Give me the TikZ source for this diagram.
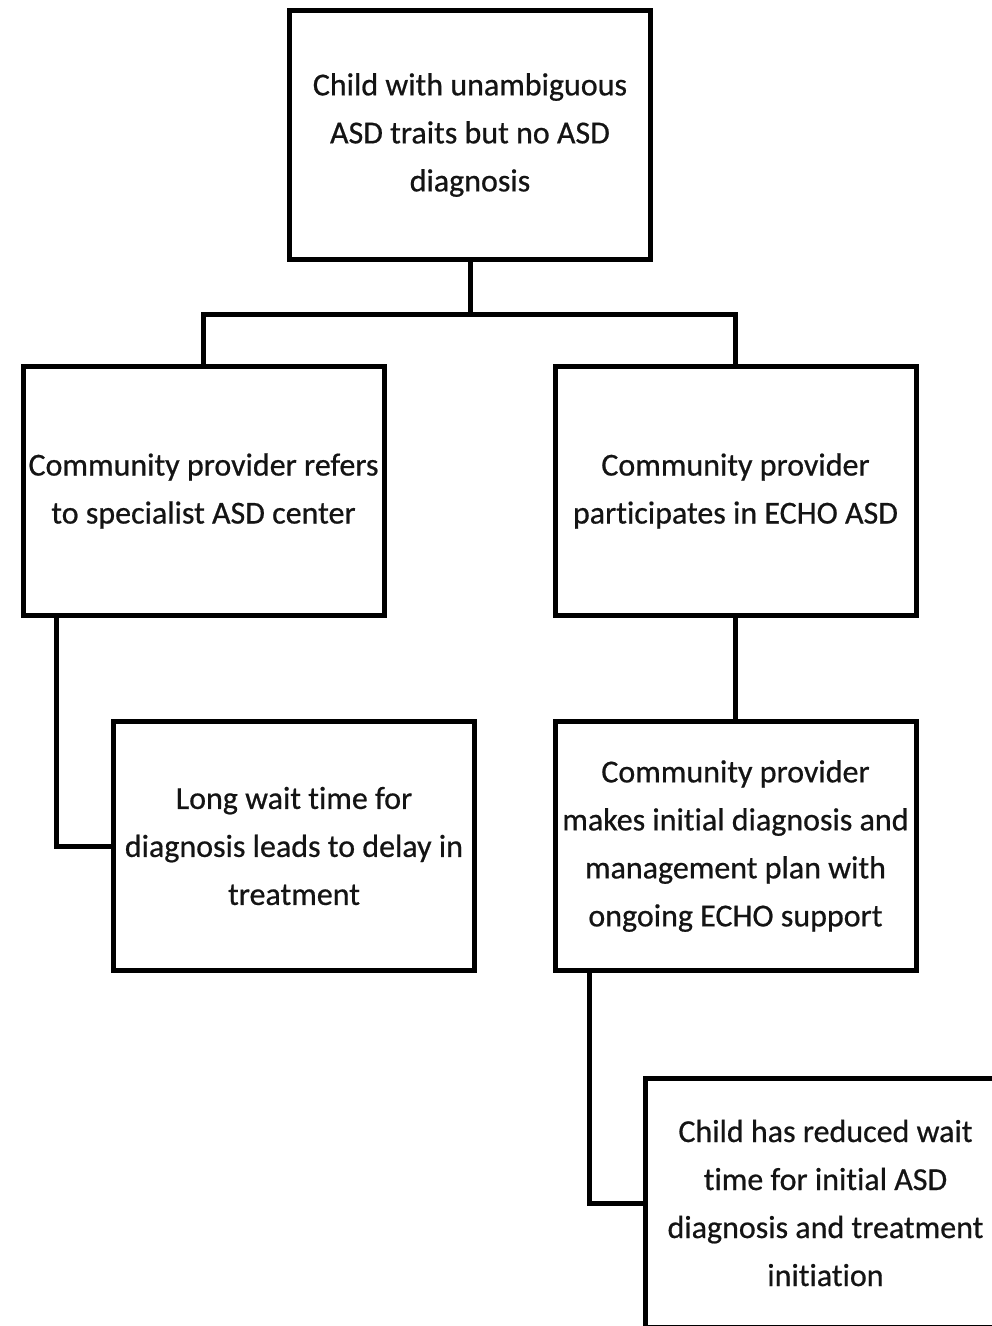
\documentclass[tikz,border=0pt]{standalone}
\usepackage{fontspec}
\setmainfont{Carlito}[Ligatures={NoCommon}, FakeBold=0.6]
\usetikzlibrary{calc}
\begin{document}
\begin{tikzpicture}[x=1pt,y=-1pt,
  box/.style={draw=black, line width=5pt, minimum width=361pt, minimum height=249pt,
    inner sep=0pt, align=center, font=\fontsize{32}{48}\selectfont, text=black!92},
  conn/.style={draw=black, line width=5pt}]
\useasboundingbox (0,0) rectangle (992,1326);
\clip (0,0) rectangle (992,1326);
\fill[white] (0,0) rectangle (992,1326);

\node[box] (top) at (470,135) {Child with unambiguous\\ASD traits but no ASD\\diagnosis};
\node[box] (left) at (203.5,491) {Community provider refers\\to specialist ASD center};
\node[box] (right) at (735.5,491) {Community provider\\participates in ECHO ASD};
\node[box] (wait) at (294,846) {Long wait time for\\diagnosis leads to delay in\\treatment};
\node[box] (mgmt) at (735.5,846) {Community provider\\makes initial diagnosis and\\management plan with\\ongoing ECHO support};
\node[box] (reduced) at (825.5,1203) {Child has reduced wait\\time for initial ASD\\diagnosis and treatment\\initiation};

\coordinate (split) at (470,314);
\coordinate (lstart) at ($(left.south west)+(36,0)$);
\coordinate (rstart) at ($(mgmt.south west)+(37,0)$);

\draw[conn] (top.south) -- (split);
\draw[conn] (left.north) |- (split) -| (right.north);
\draw[conn] (lstart) |- (wait.west);
\draw[conn] (right.south) -- (mgmt.north);
\draw[conn] (rstart) |- (reduced.west);
\end{tikzpicture}
\end{document}
